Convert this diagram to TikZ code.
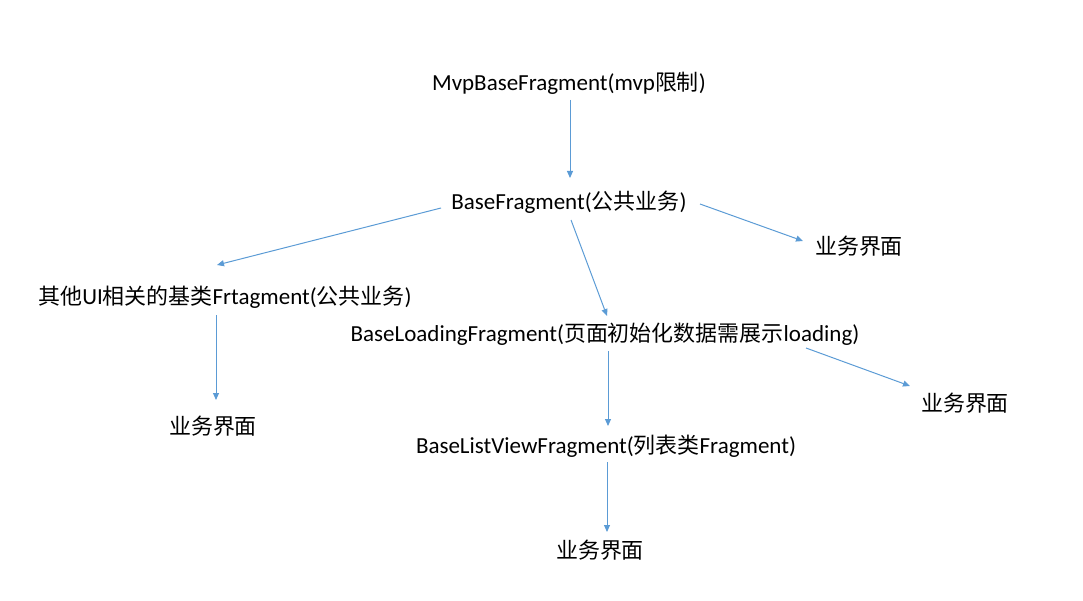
\documentclass[tikz,border=0pt]{standalone}
\usepackage{fontspec}
\setmainfont{Carlito}
\newfontfamily\cjk{Noto Sans CJK SC}[Scale=0.955]
\usetikzlibrary{arrows.meta}
\definecolor{arrblue}{HTML}{5B9BD5}
\begin{document}
\begin{tikzpicture}[x=1pt,y=-1pt,
  lbl/.style={inner sep=0pt,font=\fontsize{23}{27}\selectfont},
  arr/.style={draw=arrblue,line width=1pt,-{Triangle[length=7pt,width=6pt]}}]
\useasboundingbox (0,0) rectangle (1083,601);
\node[lbl] (mvp) at (569,83) {MvpBaseFragment(mvp{\cjk 限制})};
\node[lbl] (bf) at (569,202) {BaseFragment({\cjk 公共业务})};
\node[lbl] (ui1) at (859,246) {\cjk 业务界面};
\node[lbl] (oth) at (225,297) {{\cjk 其他}UI{\cjk 相关的基类}Frtagment({\cjk 公共业务})};
\node[lbl] (ui2) at (213,426) {\cjk 业务界面};
\node[lbl] (bl) at (605,334) {BaseLoadingFragment({\cjk 页面初始化数据需展示}loading)};
\node[lbl] (ui3) at (965,403) {\cjk 业务界面};
\node[lbl] (blv) at (606,446) {BaseListViewFragment({\cjk 列表类}Fragment)};
\node[lbl] (ui4) at (600,550) {\cjk 业务界面};
\draw[arr] ([shift={(1,17)}]mvp.center) -- ([shift={(1,-24)}]bf.center);
\draw[arr] ([shift={(-128,6)}]bf.center) -- ([shift={(-8,-32)}]oth.center);
\draw[arr] ([shift={(2,18)}]bf.center) -- ([shift={(2,-18)}]bl.center);
\draw[arr] ([shift={(131,2)}]bf.center) -- ([shift={(-56,-5)}]ui1.center);
\draw[arr] ([shift={(-9,18)}]oth.center) -- ([shift={(3,-26)}]ui2.center);
\draw[arr] ([shift={(3,17)}]bl.center) -- ([shift={(2,-20)}]blv.center);
\draw[arr] ([shift={(201,14)}]bl.center) -- ([shift={(-55,-17)}]ui3.center);
\draw[arr] ([shift={(1,16)}]blv.center) -- ([shift={(7,-18)}]ui4.center);
\end{tikzpicture}
\end{document}
